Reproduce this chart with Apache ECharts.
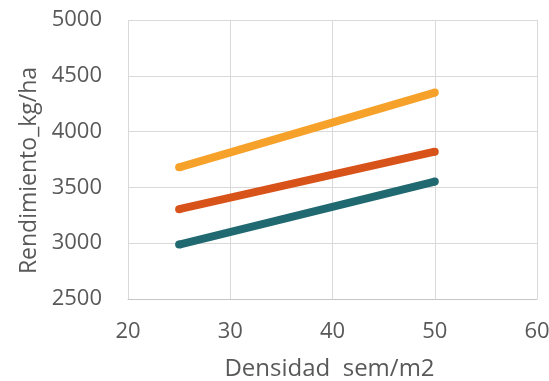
<!DOCTYPE html>
<html>
<head>
<meta charset="utf-8">
<script src="https://cdn.jsdelivr.net/npm/echarts@6/dist/echarts.min.js"></script>
<style>
  html, body { margin: 0; padding: 0; background: #ffffff; }
  #chart { width: 549px; height: 381px; }
</style>
</head>
<body>
<div id="chart"></div>
<script>
// Seeding density (seeds per m2) at the two ends of each fitted line
const densidad = [25, 50];

// Yield (kg/ha) for the three fitted lines, top to bottom
const serieAlta = [3680, 4350];
const serieMedia = [3305, 3820];
const serieBaja = [2988, 3552];

const coloresSerie = ['#F6A12A', '#D8531A', '#216970'];

const xTitulo = 'Densidad  sem/m2';
const yTitulo = 'Rendimiento_kg/ha';

const fuente = '"Open Sans", sans-serif';
const gris = '#595959';

function pares(xs, ys) {
  return xs.map((x, i) => [x, ys[i]]);
}

// Thick line with round dots at the ends to give rounded caps
function linea(datos, color) {
  return {
    type: 'line',
    data: pares(densidad, datos),
    symbol: 'circle',
    symbolSize: 8,
    showSymbol: true,
    animation: false,
    itemStyle: { color: color, borderWidth: 0 },
    lineStyle: { color: color, width: 8 }
  };
}

const chart = echarts.init(document.getElementById('chart'));
chart.setOption({
  backgroundColor: '#ffffff',
  grid: {
    left: 128, right: 12, top: 20, bottom: 82,
    containLabel: false,
    outerBoundsMode: 'none'
  },
  xAxis: {
    type: 'value',
    min: 20, max: 60, interval: 10,
    name: xTitulo,
    nameLocation: 'middle',
    nameGap: 58,
    nameTextStyle: { fontFamily: fuente, fontSize: 24, color: gris, padding: [0, 6, 0, 0] },
    axisLine: { show: true, lineStyle: { color: '#c6c6c6', width: 1 } },
    axisTick: { show: false },
    axisLabel: { fontFamily: fuente, fontSize: 22, color: gris, margin: 22 },
    splitLine: { show: true, lineStyle: { color: '#d9d9d9', width: 1 } }
  },
  yAxis: {
    type: 'value',
    min: 2500, max: 5000, interval: 500,
    name: yTitulo,
    nameLocation: 'middle',
    nameGap: 67,
    nameTextStyle: { fontFamily: fuente, fontSize: 23, color: gris, padding: [0, 22, 0, 0] },
    axisLine: { show: false },
    axisTick: { show: false },
    axisLabel: {
      fontFamily: fuente, fontSize: 22, color: gris, margin: 26,
      formatter: v => String(v)
    },
    splitLine: { show: true, lineStyle: { color: '#d9d9d9', width: 1 } }
  },
  series: [
    linea(serieAlta, coloresSerie[0]),
    linea(serieMedia, coloresSerie[1]),
    linea(serieBaja, coloresSerie[2])
  ]
});
</script>
</body>
</html>
